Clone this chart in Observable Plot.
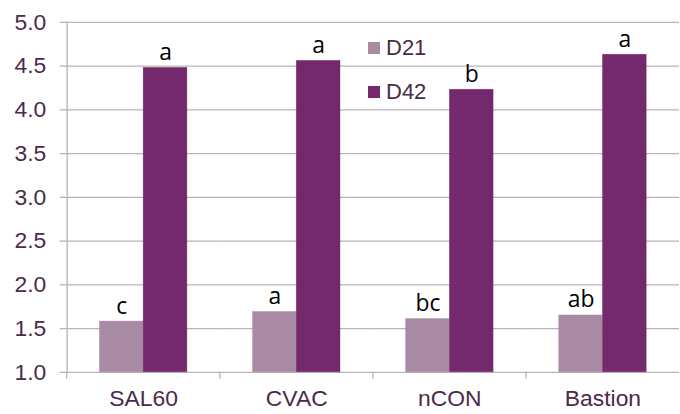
<!DOCTYPE html>
<html>
<head>
<meta charset="utf-8">
<script src="https://cdn.jsdelivr.net/npm/d3@7"></script>
<script src="https://cdn.jsdelivr.net/npm/@observablehq/plot@0.6"></script>
<style>
  html, body { margin: 0; padding: 0; background: white; overflow: hidden; }
  #wrap { position: relative; width: 680px; height: 414px; overflow: hidden; }
  #legend { position: absolute; left: 368px; top: 35px; font-family: "Liberation Sans", Arial, sans-serif; font-size: 22px; color: #4b2b49; }
  #legend .item { display: flex; align-items: center; height: 26px; margin-bottom: 18px; }
  #legend .sw { width: 12px; height: 12px; margin-right: 6px; }
</style>
</head>
<body>
<div id="wrap"></div>
<script>
const categories = ["SAL60", "CVAC", "nCON", "Bastion"];
const series = ["D21", "D42"];
const d21 = [1.58, 1.69, 1.61, 1.65];
const d42 = [4.48, 4.56, 4.23, 4.63];
const lettersD21 = ["c", "a", "bc", "ab"];
const lettersD42 = ["a", "a", "b", "a"];
const yTicks = [1.0, 1.5, 2.0, 2.5, 3.0, 3.5, 4.0, 4.5, 5.0];
const yDomain = [1, 5];
const colors = ["#a98aa5", "#74296d"];

const data = categories.flatMap((c, i) => [
  {cat: c, series: series[0], value: d21[i], letter: lettersD21[i]},
  {cat: c, series: series[1], value: d42[i], letter: lettersD42[i]}
]);

const W = 684, H = 414, ML = 65, MR = 0, MT = 22, MB = 40;
const band = (W - ML - MR) / categories.length;
const grid = "#bab2ba";
const textColor = "#4b2b49";

const chart = Plot.plot({
  width: W, height: H,
  marginLeft: ML, marginRight: MR, marginTop: MT, marginBottom: MB,
  style: {fontFamily: "Liberation Sans, Arial, sans-serif", background: "white"},
  fx: {domain: categories, padding: 0, label: null},
  x: {domain: series, paddingInner: 0, paddingOuter: 0.75, axis: null},
  y: {domain: yDomain, label: null},
  color: {domain: series, range: colors},
  marks: [
    Plot.gridY({ticks: yTicks, stroke: grid, strokeOpacity: 1, strokeWidth: 1.3}),
    Plot.frame({anchor: "left", facetAnchor: "left", stroke: grid, strokeWidth: 1.3}),
    Plot.axisY({ticks: yTicks, tickSize: 7, tickFormat: () => "", stroke: grid, strokeWidth: 1.3, label: null}),
    Plot.axisY({ticks: yTicks, tickSize: 0, tickPadding: 21, tickFormat: d3.format(".1f"), fontSize: 23, fill: textColor, label: null}),
    Plot.axisFx({anchor: "bottom", tickSize: 7, tickFormat: () => "", stroke: grid, strokeWidth: 1.3, dx: -band / 2, label: null}),
    Plot.axisFx({anchor: "bottom", tickSize: 0, tickPadding: 18, fontSize: 23, fill: textColor, label: null}),
    Plot.barY(data, {fx: "cat", x: "series", y1: yDomain[0], y2: "value", fill: "series", stroke: "series", strokeOpacity: 0.6, strokeWidth: 0.6}),
    Plot.text(data, {fx: "cat", x: "series", y: "value", text: "letter", lineAnchor: "bottom", dy: -8, fontSize: 23, fontFamily: "Open Sans, sans-serif", fill: "black"})
  ]
});

const wrap = document.getElementById("wrap");
wrap.appendChild(chart);

const legend = document.createElement("div");
legend.id = "legend";
series.forEach((s, i) => {
  const item = document.createElement("div");
  item.className = "item";
  const sw = document.createElement("span");
  sw.className = "sw";
  sw.style.background = colors[i];
  const lab = document.createElement("span");
  lab.textContent = s;
  item.appendChild(sw);
  item.appendChild(lab);
  legend.appendChild(item);
});
wrap.appendChild(legend);
</script>
</body>
</html>
